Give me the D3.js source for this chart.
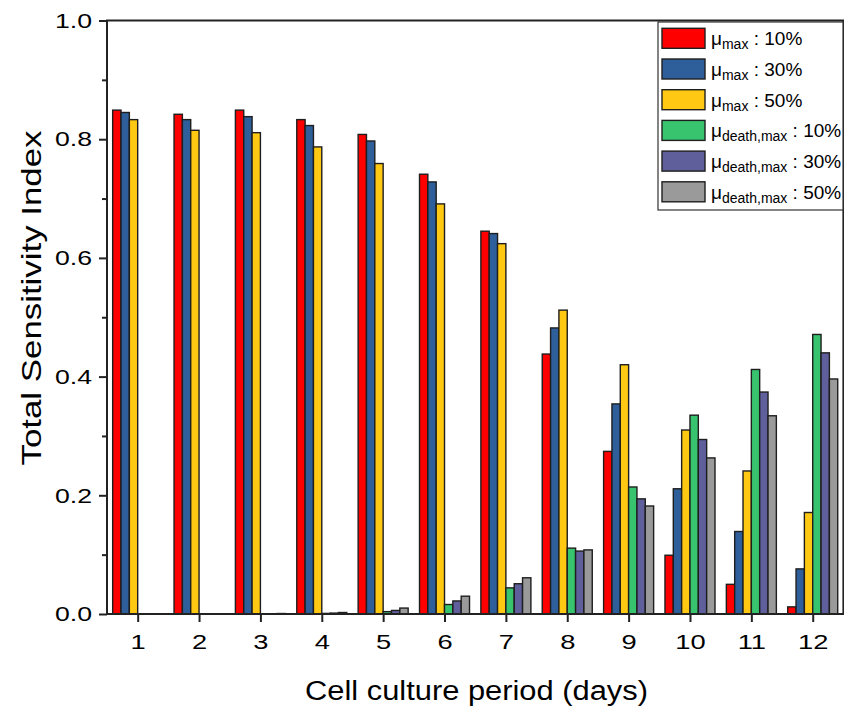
<!DOCTYPE html>
<html>
<head>
<meta charset="utf-8">
<script src="https://cdn.jsdelivr.net/npm/d3@7"></script>
<style>
  body { margin: 0; background: #fff; }
  svg { display: block; }
  text { font-family: "Liberation Sans", Arial, sans-serif; fill: #000; }
</style>
</head>
<body>
<svg id="chart" width="844" height="709"></svg>
<script>
// Total sensitivity index per parameter level over the culture period
const days = [1, 2, 3, 4, 5, 6, 7, 8, 9, 10, 11, 12];
const muMax10 = [0.849, 0.842, 0.849, 0.833, 0.808, 0.741, 0.645, 0.438, 0.274, 0.099, 0.050, 0.012];
const muMax30 = [0.845, 0.833, 0.838, 0.823, 0.797, 0.728, 0.641, 0.482, 0.354, 0.211, 0.139, 0.076];
const muMax50 = [0.833, 0.815, 0.811, 0.787, 0.759, 0.691, 0.624, 0.512, 0.420, 0.310, 0.241, 0.171];
const muDeath10 = [0, 0, 0.0003, 0.001, 0.004, 0.016, 0.044, 0.111, 0.214, 0.335, 0.412, 0.471];
const muDeath30 = [0, 0, 0.0005, 0.0015, 0.006, 0.022, 0.051, 0.106, 0.194, 0.294, 0.374, 0.440];
const muDeath50 = [0, 0, 0.0008, 0.0025, 0.010, 0.030, 0.061, 0.108, 0.182, 0.263, 0.334, 0.396];

const seriesValues = [muMax10, muMax30, muMax50, muDeath10, muDeath30, muDeath50];
const seriesSub = ["max", "max", "max", "death,max", "death,max", "death,max"];
const seriesLevel = ["10%", "30%", "50%", "10%", "30%", "50%"];
const seriesColors = ["#ff0000", "#2f5f9a", "#ffc812", "#38c46e", "#5f5f9c", "#9a9a9a"];

const yMajorTicks = [0.0, 0.2, 0.4, 0.6, 0.8, 1.0];
const yMinorTicks = [0.1, 0.3, 0.5, 0.7, 0.9];

const svg = d3.select("#chart");
const plot = { left: 107, right: 843.4, top: 20.5, bottom: 614 };

const x = d3.scaleLinear().domain([0.5, 12.5]).range([plot.left, plot.right]);
const y = d3.scaleLinear().domain([0, 1]).range([plot.bottom, plot.top]);

const groupWidth = (x(2) - x(1)) * 0.815;
const xInner = d3.scaleBand().domain(d3.range(seriesValues.length)).range([-groupWidth / 2, groupWidth / 2]);

// widen a text element horizontally by a factor, keeping its anchor
function widen(sel, factor) {
  sel.each(function () {
    const w = this.getComputedTextLength();
    if (w > 0) {
      d3.select(this).attr("textLength", w * factor).attr("lengthAdjust", "spacingAndGlyphs");
    }
  });
}

// bars
const barData = [];
seriesValues.forEach((vals, s) => vals.forEach((v, i) => barData.push({ s, day: days[i], v })));

svg.append("g").selectAll("rect").data(barData).join("rect")
  .attr("x", d => x(d.day) + xInner(d.s))
  .attr("width", xInner.bandwidth())
  .attr("y", d => y(d.v))
  .attr("height", d => y(0) - y(d.v))
  .attr("fill", d => seriesColors[d.s])
  .attr("stroke", "#1e1e1e")
  .attr("stroke-width", 1.4);

// axes
const yAxis = svg.append("g").attr("transform", `translate(${plot.left},0)`)
  .call(d3.axisLeft(y).tickValues(yMajorTicks).tickFormat(d3.format(".1f")).tickSize(8).tickPadding(7).tickSizeOuter(0));
const yMinor = svg.append("g").attr("transform", `translate(${plot.left},0)`)
  .call(d3.axisLeft(y).tickValues(yMinorTicks).tickFormat("").tickSize(5).tickSizeOuter(0));
const xAxis = svg.append("g").attr("transform", `translate(0,${plot.bottom})`)
  .call(d3.axisBottom(x).tickValues(days).tickFormat(d3.format("d")).tickSize(8).tickPadding(12).tickSizeOuter(0));

[yAxis, yMinor, xAxis].forEach(g => {
  g.select(".domain").remove();
  g.selectAll(".tick line").attr("stroke", "#222").attr("stroke-width", 2);
  g.selectAll(".tick text").attr("font-size", 21).attr("font-family", "Liberation Sans, Arial, sans-serif").attr("fill", "#000");
});
widen(yAxis.selectAll(".tick text"), 1.27);
widen(xAxis.selectAll(".tick text"), 1.3);

// frame
svg.append("rect")
  .attr("x", plot.left).attr("y", plot.top)
  .attr("width", plot.right - plot.left).attr("height", plot.bottom - plot.top)
  .attr("fill", "none").attr("stroke", "#222").attr("stroke-width", 2);

// axis titles
svg.append("text")
  .attr("x", 476.5).attr("y", 700)
  .attr("text-anchor", "middle").attr("font-size", 27)
  .attr("textLength", 343).attr("lengthAdjust", "spacingAndGlyphs")
  .text("Cell culture period (days)");

svg.append("text")
  .attr("transform", "translate(41,298) rotate(-90)")
  .attr("text-anchor", "middle").attr("font-size", 28)
  .attr("textLength", 335).attr("lengthAdjust", "spacingAndGlyphs")
  .text("Total Sensitivity Index");

// legend
const legend = svg.append("g");
legend.append("rect")
  .attr("x", 658).attr("y", 22).attr("width", 185).attr("height", 188)
  .attr("fill", "#fff").attr("stroke", "#333").attr("stroke-width", 1.2);

const rowStep = 30.7;
const rows = legend.selectAll("g.row").data(d3.range(seriesValues.length)).join("g")
  .attr("class", "row")
  .attr("transform", i => `translate(0,${28.3 + i * rowStep})`);

rows.append("rect")
  .attr("x", 662).attr("y", 0).attr("width", 43).attr("height", 20)
  .attr("fill", i => seriesColors[i]).attr("stroke", "#1e1e1e").attr("stroke-width", 1.4);

const label = rows.append("text").attr("x", 711).attr("y", 17).attr("font-size", 19);
label.append("tspan").text("\u03bc");
label.append("tspan").attr("font-size", 14).attr("dy", 4).text(i => seriesSub[i]);
label.append("tspan").attr("dy", -4).text(i => " : " + seriesLevel[i]);
</script>
</body>
</html>
